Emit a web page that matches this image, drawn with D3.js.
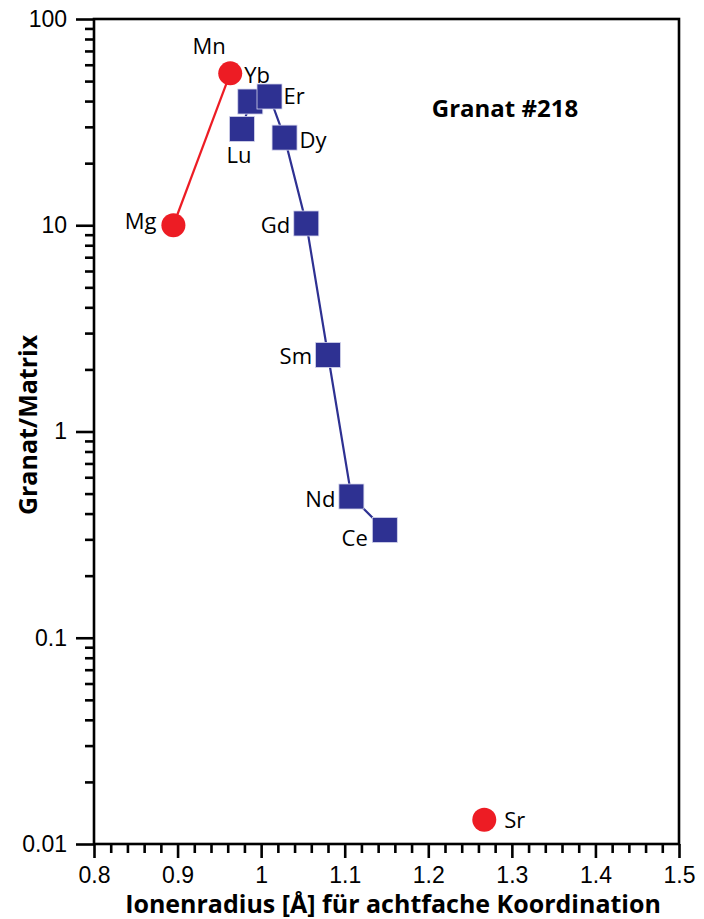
<!DOCTYPE html>
<html>
<head>
<meta charset="utf-8">
<script src="https://cdn.jsdelivr.net/npm/d3@7"></script>
<style>
  html, body { margin: 0; padding: 0; background: #fff; }
  svg { display: block; font-family: "Open Sans", "Noto Sans", sans-serif; }
</style>
</head>
<body>
<svg id="chart" width="704" height="919"></svg>
<script>
// Partition coefficients garnet / matrix versus ionic radius (eightfold coordination)
const majorElements = ["Mg", "Mn", "Sr"];
const majorRadius   = [0.895, 0.963, 1.267];
const majorRatio    = [10.0, 54.5, 0.0131];
const majorLinked   = ["Mg", "Mn"];   // Sr stands alone

const reeElements = ["Lu", "Yb", "Er", "Dy", "Gd", "Sm", "Nd", "Ce"];
const reeRadius   = [0.977, 0.987, 1.010, 1.028, 1.054, 1.080, 1.108, 1.148];
const reeRatio    = [29.3, 39.8, 42.1, 26.6, 10.2, 2.35, 0.484, 0.333];

const xTicks = [0.8, 0.9, 1.0, 1.1, 1.2, 1.3, 1.4, 1.5];
const xTickLabels = ["0.8", "0.9", "1", "1.1", "1.2", "1.3", "1.4", "1.5"];
const yTicks = [0.01, 0.1, 1, 10, 100];
const yTickLabels = ["0.01", "0.1", "1", "10", "100"];

const RED = "#ED1C24", BLUE = "#2E3192";

const svg = d3.select("#chart");
const m = { left: 94, right: 679, top: 19, bottom: 844 };

const x = d3.scaleLinear().domain([0.8, 1.5]).range([m.left, m.right]);
const y = d3.scaleLog().domain([0.01, 100]).range([m.bottom, m.top]);

// minor ticks
const xMinor = d3.range(0.8, 1.5001, 0.02).filter(v => Math.abs(Math.round(v * 10) - v * 10) > 1e-6);
const yMinor = [];
for (let e = -2; e < 2; e++) for (let k = 2; k <= 9; k++) yMinor.push(k * Math.pow(10, e));

const axisStroke = 2.6;

// x axis: minor then major ticks
const gxMinor = svg.append("g").attr("transform", `translate(0,${m.bottom})`)
  .call(d3.axisBottom(x).tickValues(xMinor).tickSize(9).tickFormat(""));
const gx = svg.append("g").attr("transform", `translate(0,${m.bottom})`)
  .call(d3.axisBottom(x).tickValues(xTicks).tickSize(14).tickPadding(9)
    .tickFormat((d, i) => xTickLabels[i]));

const gyMinor = svg.append("g").attr("transform", `translate(${m.left},0)`)
  .call(d3.axisLeft(y).tickValues(yMinor).tickSize(9).tickFormat(""));
const gy = svg.append("g").attr("transform", `translate(${m.left},0)`)
  .call(d3.axisLeft(y).tickValues(yTicks).tickSize(18).tickPadding(9)
    .tickFormat((d, i) => yTickLabels[i]));

[gxMinor, gx, gyMinor, gy].forEach(g => {
  g.select(".domain").remove();
  g.selectAll(".tick line").attr("stroke", "#000").attr("stroke-width", axisStroke);
  g.selectAll(".tick text").attr("fill", "#000").style("font-size", "23px");
});

// plot frame
svg.append("rect")
  .attr("x", m.left).attr("y", m.top)
  .attr("width", m.right - m.left).attr("height", m.bottom - m.top)
  .attr("fill", "none").attr("stroke", "#000").attr("stroke-width", axisStroke);

// axis titles
svg.append("text")
  .attr("x", 393).attr("y", 913)
  .attr("text-anchor", "middle")
  .style("font-size", "25px").style("font-weight", "bold")
  .text("Ionenradius [Å] für achtfache Koordination");

svg.append("text")
  .attr("transform", "translate(37,425) rotate(-90)")
  .attr("text-anchor", "middle")
  .style("font-size", "25px").style("font-weight", "bold")
  .text("Granat/Matrix");

svg.append("text")
  .attr("x", 505).attr("y", 117)
  .attr("text-anchor", "middle")
  .style("font-size", "24px").style("font-weight", "bold")
  .text("Granat #218");

// REE line and squares
const ree = reeElements.map((el, i) => ({ el, r: reeRadius[i], v: reeRatio[i] }));
const line = d3.line().x(d => x(d.r)).y(d => y(d.v));
svg.append("path").datum(ree)
  .attr("d", line).attr("fill", "none")
  .attr("stroke", BLUE).attr("stroke-width", 2.2);

const sq = 25;
svg.selectAll("rect.ree").data(ree).join("rect")
  .attr("class", "ree")
  .attr("x", d => x(d.r) - sq / 2).attr("y", d => y(d.v) - sq / 2)
  .attr("width", sq).attr("height", sq)
  .attr("fill", BLUE).attr("stroke", "#d4d5ec").attr("stroke-width", 0.8);

// major-element line and circles
const maj = majorElements.map((el, i) => ({ el, r: majorRadius[i], v: majorRatio[i] }));
svg.append("path").datum(maj.filter(d => majorLinked.includes(d.el)))
  .attr("d", line).attr("fill", "none")
  .attr("stroke", RED).attr("stroke-width", 2.2);
svg.selectAll("circle.maj").data(maj).join("circle")
  .attr("class", "maj")
  .attr("cx", d => x(d.r)).attr("cy", d => y(d.v)).attr("r", 12)
  .attr("fill", RED);

// point labels: offsets relative to each mark
const labelOffsets = {
  Mg: [-17, 4, "end"], Mn: [-21, -19, "middle"], Sr: [20, 8, "start"],
  Lu: [-3, 34, "middle"], Yb: [-6, -19, "start"], Er: [14, 8, "start"],
  Dy: [15, 10, "start"], Gd: [-16, 10, "end"], Sm: [-16, 9, "end"],
  Nd: [-16, 10, "end"], Ce: [-17, 16, "end"]
};
const labelled = maj.concat(ree);
svg.selectAll("text.pt").data(labelled).join("text")
  .attr("class", "pt")
  .attr("x", d => x(d.r) + labelOffsets[d.el][0])
  .attr("y", d => y(d.v) + labelOffsets[d.el][1])
  .attr("text-anchor", d => labelOffsets[d.el][2])
  .style("font-size", "22px")
  .text(d => d.el);
</script>
</body>
</html>
